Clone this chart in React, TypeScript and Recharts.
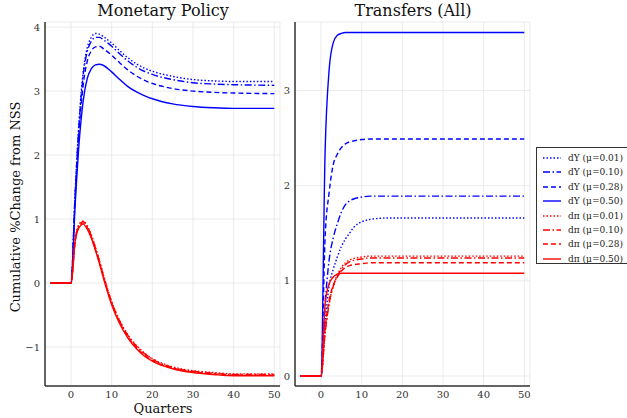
import React from 'react';
import { LineChart, Line, XAxis, YAxis, CartesianGrid } from 'recharts';

// quarters since the shock
const quarters = [-5, 0, 1, 2, 3, 4, 5, 6, 7, 8, 10, 12, 14, 16, 18, 20, 25, 30, 35, 40, 50];

// Monetary policy responses
const mpY001 = [0, 0, 1.4, 2.55, 3.3, 3.68, 3.84, 3.9, 3.89, 3.85, 3.75, 3.63, 3.52, 3.43, 3.36, 3.31, 3.23, 3.18, 3.16, 3.15, 3.15];
const mpY010 = [0, 0, 1.38, 2.5, 3.25, 3.62, 3.78, 3.84, 3.84, 3.8, 3.7, 3.58, 3.47, 3.38, 3.31, 3.26, 3.18, 3.13, 3.11, 3.1, 3.09];
const mpY028 = [0, 0, 1.32, 2.4, 3.1, 3.47, 3.63, 3.69, 3.7, 3.66, 3.56, 3.44, 3.33, 3.24, 3.17, 3.12, 3.04, 3.0, 2.98, 2.97, 2.96];
const mpY050 = [0, 0, 1.2, 2.2, 2.85, 3.2, 3.35, 3.41, 3.42, 3.4, 3.3, 3.18, 3.07, 2.99, 2.93, 2.88, 2.8, 2.76, 2.74, 2.73, 2.73];
const mpPi001 = [0, 0, 0.67, 0.92, 0.97, 0.89, 0.75, 0.56, 0.35, 0.12, -0.29, -0.59, -0.81, -0.97, -1.09, -1.18, -1.31, -1.37, -1.4, -1.42, -1.42];
const mpPi010 = [0, 0, 0.66, 0.91, 0.96, 0.88, 0.74, 0.55, 0.34, 0.11, -0.3, -0.6, -0.82, -0.98, -1.1, -1.19, -1.32, -1.38, -1.41, -1.43, -1.43];
const mpPi028 = [0, 0, 0.65, 0.89, 0.94, 0.86, 0.72, 0.53, 0.32, 0.09, -0.32, -0.62, -0.84, -1.0, -1.12, -1.21, -1.33, -1.39, -1.42, -1.44, -1.44];
const mpPi050 = [0, 0, 0.64, 0.87, 0.92, 0.84, 0.7, 0.51, 0.3, 0.07, -0.34, -0.64, -0.86, -1.02, -1.14, -1.22, -1.34, -1.4, -1.43, -1.45, -1.45];

// Transfer responses
const trY001 = [0, 0, 0.55, 0.95, 1.12, 1.25, 1.36, 1.44, 1.5, 1.56, 1.62, 1.645, 1.655, 1.66, 1.66, 1.66, 1.66, 1.66, 1.66, 1.66, 1.66];
const trY010 = [0, 0, 0.75, 1.22, 1.45, 1.6, 1.72, 1.8, 1.84, 1.86, 1.88, 1.89, 1.89, 1.89, 1.89, 1.89, 1.89, 1.89, 1.89, 1.89, 1.89];
const trY028 = [0, 0, 1.45, 1.93, 2.22, 2.33, 2.4, 2.44, 2.46, 2.47, 2.485, 2.49, 2.49, 2.49, 2.49, 2.49, 2.49, 2.49, 2.49, 2.49, 2.49];
const trY050 = [0, 0, 2.35, 3.22, 3.5, 3.58, 3.6, 3.61, 3.61, 3.61, 3.61, 3.61, 3.61, 3.61, 3.61, 3.61, 3.61, 3.61, 3.61, 3.61, 3.61];
const trPi001 = [0, 0, 0.45, 0.76, 0.95, 1.06, 1.14, 1.19, 1.22, 1.235, 1.25, 1.26, 1.26, 1.26, 1.26, 1.26, 1.26, 1.26, 1.26, 1.26, 1.26];
const trPi010 = [0, 0, 0.45, 0.76, 0.94, 1.05, 1.12, 1.17, 1.2, 1.215, 1.23, 1.24, 1.24, 1.24, 1.24, 1.24, 1.24, 1.24, 1.24, 1.24, 1.24];
const trPi028 = [0, 0, 0.5, 0.8, 0.95, 1.04, 1.1, 1.14, 1.16, 1.17, 1.18, 1.19, 1.19, 1.19, 1.19, 1.19, 1.19, 1.19, 1.19, 1.19, 1.19];
const trPi050 = [0, 0, 0.75, 0.97, 1.04, 1.07, 1.08, 1.08, 1.08, 1.08, 1.08, 1.08, 1.08, 1.08, 1.08, 1.08, 1.08, 1.08, 1.08, 1.08, 1.08];

const xTicks = [0, 10, 20, 30, 40, 50];
const mpTicks = [-1, 0, 1, 2, 3, 4];
const trTicks = [0, 1, 2, 3];

const FONT = '"DejaVu Serif", serif';
const BLUE = '#0000ff';
const RED = '#ff0000';

const DASH: {[k: string]: string | undefined} = {
  dot: '1.5 2',
  dashdot: '7 2.5 1.5 2.5',
  dash: '5 3',
  solid: undefined,
};

const seriesDefs = [
  { key: 'y001', label: 'dY (μ=0.01)', color: BLUE, style: 'dot' },
  { key: 'y010', label: 'dY (μ=0.10)', color: BLUE, style: 'dashdot' },
  { key: 'y028', label: 'dY (μ=0.28)', color: BLUE, style: 'dash' },
  { key: 'y050', label: 'dY (μ=0.50)', color: BLUE, style: 'solid' },
  { key: 'p001', label: 'dπ (μ=0.01)', color: RED, style: 'dot' },
  { key: 'p010', label: 'dπ (μ=0.10)', color: RED, style: 'dashdot' },
  { key: 'p028', label: 'dπ (μ=0.28)', color: RED, style: 'dash' },
  { key: 'p050', label: 'dπ (μ=0.50)', color: RED, style: 'solid' },
];

const buildRows = (cols: number[][]) =>
  quarters.map((q, i) => ({
    t: q,
    y001: cols[0][i], y010: cols[1][i], y028: cols[2][i], y050: cols[3][i],
    p001: cols[4][i], p010: cols[5][i], p028: cols[6][i], p050: cols[7][i],
  }));

const mpData = buildRows([mpY001, mpY010, mpY028, mpY050, mpPi001, mpPi010, mpPi028, mpPi050]);
const trData = buildRows([trY001, trY010, trY028, trY050, trPi001, trPi010, trPi028, trPi050]);

const fmt = (v: number) => (v < 0 ? `\u2212${-v}` : `${v}`);

type PanelProps = {
  data: any[];
  yDomain: [number, number];
  yTicks: number[];
};

const Panel = ({ data, yDomain, yTicks }: PanelProps) => (
  <LineChart width={290} height={418} data={data} margin={{ top: 22, right: 10, bottom: 0, left: 0 }}>
    <CartesianGrid stroke="#e6e6e6" strokeWidth={0.8} />
    <XAxis
      dataKey="t"
      type="number"
      domain={[-6.4, 51.4]}
      ticks={xTicks}
      allowDataOverflow
      height={32}
      tickLine={false}
      tickSize={3}
      tickMargin={2}
      axisLine={{ stroke: '#333', strokeWidth: 1.5 }}
      tick={{ fill: '#333', fontSize: 10, fontFamily: FONT }}
    />
    <YAxis
      type="number"
      domain={yDomain}
      ticks={yTicks}
      allowDataOverflow
      width={45}
      tickLine={false}
      tickSize={3}
      tickMargin={2}
      tickFormatter={fmt}
      axisLine={{ stroke: '#333', strokeWidth: 1.5 }}
      tick={{ fill: '#333', fontSize: 10, fontFamily: FONT }}
    />
    {seriesDefs.map((s) => (
      <Line
        key={s.key}
        dataKey={s.key}
        type="monotone"
        stroke={s.color}
        strokeWidth={1.4}
        strokeDasharray={DASH[s.style]}
        dot={false}
        isAnimationActive={false}
      />
    ))}
  </LineChart>
);

const LegendBox = () => (
  <div
    style={{
      position: 'absolute', left: 536, top: 147, width: 100, height: 117,
      border: '1px solid #333', background: '#fff', boxSizing: 'border-box',
      fontFamily: FONT, fontSize: 9, color: '#222',
    }}
  >
    {seriesDefs.map((s, i) => (
      <div key={s.key} style={{ position: 'absolute', left: 5, top: 3 + i * 14.4, height: 14, display: 'flex', alignItems: 'center' }}>
        <svg width={20} height={10} style={{ marginRight: 6 }}>
          <line x1={1} y1={5} x2={19} y2={5} stroke={s.color} strokeWidth={1.4} strokeDasharray={DASH[s.style]} />
        </svg>
        <span style={{ whiteSpace: 'nowrap' }}>{s.label}</span>
      </div>
    ))}
  </div>
);

const textStyle: React.CSSProperties = { position: 'absolute', fontFamily: FONT, color: '#111', whiteSpace: 'nowrap', lineHeight: 1 };

export default function App() {
  return (
    <div style={{ position: 'absolute', left: 0, top: 0, width: 627, height: 418, overflow: 'hidden', background: '#fff' }}>
      <div style={{ position: 'absolute', left: 0, top: 0 }}>
        <Panel data={mpData} yDomain={[-1.61, 4.08]} yTicks={mpTicks} />
      </div>
      <div style={{ position: 'absolute', left: 250, top: 0 }}>
        <Panel data={trData} yDomain={[-0.105, 3.72]} yTicks={trTicks} />
      </div>
      <div style={{ ...textStyle, left: 163, top: 3, fontSize: 16, transform: 'translateX(-50%)' }}>Monetary Policy</div>
      <div style={{ ...textStyle, left: 413, top: 3, fontSize: 16, transform: 'translateX(-50%)' }}>Transfers (All)</div>
      <div style={{ ...textStyle, left: 163, top: 402, fontSize: 13, transform: 'translateX(-50%)' }}>Quarters</div>
      <div style={{ ...textStyle, left: 15, top: 207, fontSize: 13, transform: 'translate(-50%, -50%) rotate(-90deg)' }}>
        Cumulative %Change from NSS
      </div>
      <LegendBox />
    </div>
  );
}
